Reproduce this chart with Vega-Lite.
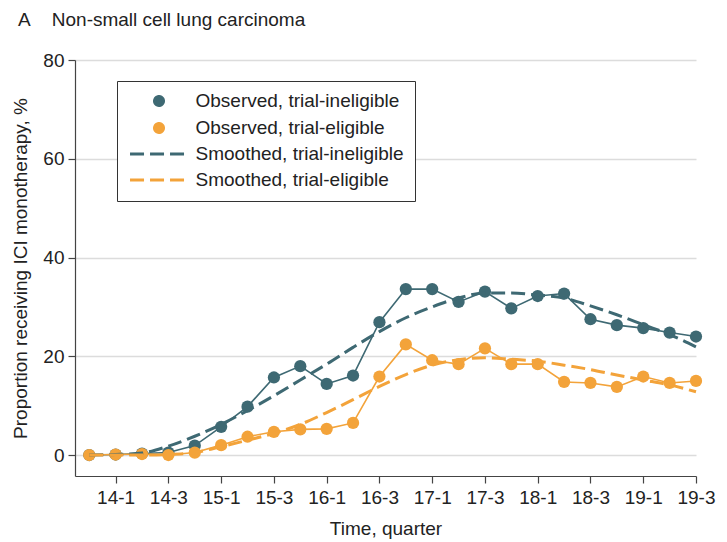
{
  "$schema": "https://vega.github.io/schema/vega-lite/v6.json",
  "width": 621,
  "height": 416,
  "autosize": "none",
  "padding": {"left": 75, "top": 60, "right": 31, "bottom": 66},
  "background": "white",
  "config": {
    "view": {"stroke": null},
    "font": "Liberation Sans",
    "axis": {"labelFont": "Liberation Sans", "titleFont": "Liberation Sans", "labelColor": "#222", "titleColor": "#222", "domainColor": "#444", "tickColor": "#444", "labelFontSize": 19, "titleFontSize": 19, "titleFontWeight": "normal", "domainWidth": 1.2, "tickWidth": 1.2, "tickSize": 7},
    "legend": {"labelFont": "Liberation Sans", "title": null, "orient": "none", "legendX": 42, "legendY": 21, "strokeColor": "#333", "fillColor": "white", "padding": 10.5, "labelFontSize": 19, "labelColor": "#222", "labelLimit": 0, "labelOffset": 27, "symbolOffset": 22, "rowPadding": 6, "symbolSize": 81, "symbolStrokeWidth": 3, "symbolOpacity": 1}
  },
  "title": {"text": "A\u00a0\u00a0\u00a0\u00a0Non-small cell lung carcinoma", "anchor": "start", "frame": "group", "dx": -57, "offset": 21, "fontSize": 19, "fontWeight": "normal", "color": "#222", "font": "Liberation Sans"},
  "data": {"values": [
    {"t":0,"series":"Observed, trial-ineligible","value":0},{"t":1,"series":"Observed, trial-ineligible","value":0.1},{"t":2,"series":"Observed, trial-ineligible","value":0.3},{"t":3,"series":"Observed, trial-ineligible","value":0.5},{"t":4,"series":"Observed, trial-ineligible","value":1.9},{"t":5,"series":"Observed, trial-ineligible","value":5.7},{"t":6,"series":"Observed, trial-ineligible","value":9.8},{"t":7,"series":"Observed, trial-ineligible","value":15.7},{"t":8,"series":"Observed, trial-ineligible","value":18.0},{"t":9,"series":"Observed, trial-ineligible","value":14.4},{"t":10,"series":"Observed, trial-ineligible","value":16.1},{"t":11,"series":"Observed, trial-ineligible","value":26.9},{"t":12,"series":"Observed, trial-ineligible","value":33.6},{"t":13,"series":"Observed, trial-ineligible","value":33.6},{"t":14,"series":"Observed, trial-ineligible","value":31.0},{"t":15,"series":"Observed, trial-ineligible","value":33.1},{"t":16,"series":"Observed, trial-ineligible","value":29.7},{"t":17,"series":"Observed, trial-ineligible","value":32.2},{"t":18,"series":"Observed, trial-ineligible","value":32.7},{"t":19,"series":"Observed, trial-ineligible","value":27.5},{"t":20,"series":"Observed, trial-ineligible","value":26.3},{"t":21,"series":"Observed, trial-ineligible","value":25.7},{"t":22,"series":"Observed, trial-ineligible","value":24.8},{"t":23,"series":"Observed, trial-ineligible","value":24.0},
    {"t":0,"series":"Observed, trial-eligible","value":0},{"t":1,"series":"Observed, trial-eligible","value":0.1},{"t":2,"series":"Observed, trial-eligible","value":0.2},{"t":3,"series":"Observed, trial-eligible","value":0},{"t":4,"series":"Observed, trial-eligible","value":0.5},{"t":5,"series":"Observed, trial-eligible","value":2.0},{"t":6,"series":"Observed, trial-eligible","value":3.7},{"t":7,"series":"Observed, trial-eligible","value":4.7},{"t":8,"series":"Observed, trial-eligible","value":5.2},{"t":9,"series":"Observed, trial-eligible","value":5.3},{"t":10,"series":"Observed, trial-eligible","value":6.5},{"t":11,"series":"Observed, trial-eligible","value":15.9},{"t":12,"series":"Observed, trial-eligible","value":22.4},{"t":13,"series":"Observed, trial-eligible","value":19.2},{"t":14,"series":"Observed, trial-eligible","value":18.4},{"t":15,"series":"Observed, trial-eligible","value":21.6},{"t":16,"series":"Observed, trial-eligible","value":18.4},{"t":17,"series":"Observed, trial-eligible","value":18.4},{"t":18,"series":"Observed, trial-eligible","value":14.8},{"t":19,"series":"Observed, trial-eligible","value":14.6},{"t":20,"series":"Observed, trial-eligible","value":13.8},{"t":21,"series":"Observed, trial-eligible","value":15.9},{"t":22,"series":"Observed, trial-eligible","value":14.6},{"t":23,"series":"Observed, trial-eligible","value":15.0},
    {"t":0,"series":"Smoothed, trial-ineligible","value":0},{"t":1,"series":"Smoothed, trial-ineligible","value":0.1},{"t":2,"series":"Smoothed, trial-ineligible","value":0.4},{"t":3,"series":"Smoothed, trial-ineligible","value":1.8},{"t":4,"series":"Smoothed, trial-ineligible","value":3.8},{"t":5,"series":"Smoothed, trial-ineligible","value":6.2},{"t":6,"series":"Smoothed, trial-ineligible","value":9.0},{"t":7,"series":"Smoothed, trial-ineligible","value":12.0},{"t":8,"series":"Smoothed, trial-ineligible","value":15.2},{"t":9,"series":"Smoothed, trial-ineligible","value":18.4},{"t":10,"series":"Smoothed, trial-ineligible","value":21.8},{"t":11,"series":"Smoothed, trial-ineligible","value":25.0},{"t":12,"series":"Smoothed, trial-ineligible","value":27.8},{"t":13,"series":"Smoothed, trial-ineligible","value":30.0},{"t":14,"series":"Smoothed, trial-ineligible","value":31.8},{"t":15,"series":"Smoothed, trial-ineligible","value":32.8},{"t":16,"series":"Smoothed, trial-ineligible","value":32.8},{"t":17,"series":"Smoothed, trial-ineligible","value":32.4},{"t":18,"series":"Smoothed, trial-ineligible","value":31.8},{"t":19,"series":"Smoothed, trial-ineligible","value":30.2},{"t":20,"series":"Smoothed, trial-ineligible","value":28.4},{"t":21,"series":"Smoothed, trial-ineligible","value":26.4},{"t":22,"series":"Smoothed, trial-ineligible","value":24.4},{"t":23,"series":"Smoothed, trial-ineligible","value":21.9},
    {"t":0,"series":"Smoothed, trial-eligible","value":0},{"t":1,"series":"Smoothed, trial-eligible","value":0},{"t":2,"series":"Smoothed, trial-eligible","value":0},{"t":3,"series":"Smoothed, trial-eligible","value":0.1},{"t":4,"series":"Smoothed, trial-eligible","value":0.5},{"t":5,"series":"Smoothed, trial-eligible","value":1.7},{"t":6,"series":"Smoothed, trial-eligible","value":3.0},{"t":7,"series":"Smoothed, trial-eligible","value":4.4},{"t":8,"series":"Smoothed, trial-eligible","value":6.2},{"t":9,"series":"Smoothed, trial-eligible","value":8.6},{"t":10,"series":"Smoothed, trial-eligible","value":11.2},{"t":11,"series":"Smoothed, trial-eligible","value":13.9},{"t":12,"series":"Smoothed, trial-eligible","value":16.3},{"t":13,"series":"Smoothed, trial-eligible","value":18.2},{"t":14,"series":"Smoothed, trial-eligible","value":19.3},{"t":15,"series":"Smoothed, trial-eligible","value":19.7},{"t":16,"series":"Smoothed, trial-eligible","value":19.4},{"t":17,"series":"Smoothed, trial-eligible","value":19.0},{"t":18,"series":"Smoothed, trial-eligible","value":18.2},{"t":19,"series":"Smoothed, trial-eligible","value":17.3},{"t":20,"series":"Smoothed, trial-eligible","value":16.2},{"t":21,"series":"Smoothed, trial-eligible","value":15.2},{"t":22,"series":"Smoothed, trial-eligible","value":14.2},{"t":23,"series":"Smoothed, trial-eligible","value":12.8}
  ]},
  "encoding": {
    "x": {"field": "t", "type": "quantitative", "scale": {"domain": [-0.54, 23], "nice": false, "zero": false},
      "axis": {"title": "Time, quarter", "values": [1,3,5,7,9,11,13,15,17,19,21,23], "grid": false, "labelOverlap": false, "labelFlush": false, "labelExpr": "(13 + floor((datum.value + 3) / 4)) + '-' + ((datum.value + 3) % 4 + 1)", "labelPadding": 5, "titlePadding": 12}},
    "y": {"field": "value", "type": "quantitative", "scale": {"domain": [-4.25, 80], "nice": false, "zero": false},
      "axis": {"title": "Proportion receiving ICI monotherapy, %", "values": [0,20,40,60,80], "grid": true, "gridColor": "#dcdcdc", "gridWidth": 1.5, "labelPadding": 4, "titlePadding": 12}},
    "color": {"field": "series", "type": "nominal",
      "scale": {"domain": ["Observed, trial-ineligible", "Observed, trial-eligible", "Smoothed, trial-ineligible", "Smoothed, trial-eligible"], "range": ["#3e6973", "#f3a33a", "#3e6973", "#f3a33a"]}}
  },
  "layer": [
    {"transform": [{"filter": "indexof(datum.series, 'Observed') == 0"}], "mark": {"type": "line", "strokeWidth": 1.6}},
    {"transform": [{"filter": "indexof(datum.series, 'Observed') == 0"}], "mark": {"type": "point", "filled": true, "size": 150, "opacity": 1},
      "encoding": {"shape": {"field": "series", "type": "nominal", "scale": {"domain": ["Observed, trial-ineligible", "Observed, trial-eligible", "Smoothed, trial-ineligible", "Smoothed, trial-eligible"], "range": ["circle", "circle", "M-6.44,0H6.44", "M-6.44,0H6.44"]}}}},
    {"transform": [{"filter": "indexof(datum.series, 'Smoothed') == 0"}], "mark": {"type": "line", "strokeWidth": 3, "interpolate": "monotone"},
      "encoding": {"strokeDash": {"field": "series", "type": "nominal", "scale": {"domain": ["Observed, trial-ineligible", "Observed, trial-eligible", "Smoothed, trial-ineligible", "Smoothed, trial-eligible"], "range": [[1, 0], [1, 0], [14, 6], [14, 6]]}}}}
  ]
}
